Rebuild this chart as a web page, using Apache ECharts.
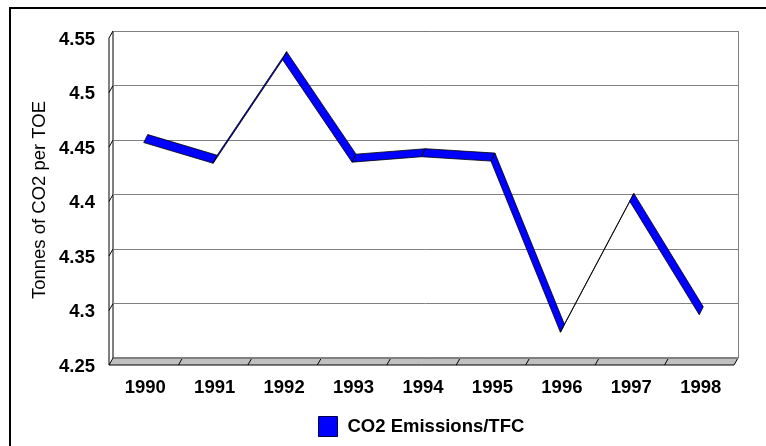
<!DOCTYPE html>
<html>
<head>
<meta charset="utf-8">
<script src="https://cdn.jsdelivr.net/npm/echarts@6/dist/echarts.min.js"></script>
<style>
  html, body { margin: 0; padding: 0; background: #fff; }
  #main { width: 766px; height: 446px; }
</style>
</head>
<body>
<div id="main"></div>
<script>
// CO2 emissions per unit of TFC, 1990-1998
var years = ['1990', '1991', '1992', '1993', '1994', '1995', '1996', '1997', '1998'];
var co2PerToe = [4.455, 4.436, 4.531, 4.437, 4.442, 4.438, 4.281, 4.401, 4.297];
var yTicks = [4.25, 4.3, 4.35, 4.4, 4.45, 4.5, 4.55];
var seriesName = 'CO2 Emissions/TFC';
var axisTitle = 'Tonnes of CO2 per TOE';

// back wall of the fake 3d plot
var gridL = 113, gridT = 31, gridW = 625, gridH = 327;
var depth = [-4, 7];        // back wall -> front plane
var ribbonDepth = [-4, 8];  // thickness of the line ribbon
var font = 'Liberation Sans, Arial, sans-serif';

var chartDom = document.getElementById('main');
var myChart = echarts.init(chartDom, null, { renderer: 'canvas' });

// one ribbon piece per pair of neighbouring years
var segments = [];
for (var i = 0; i < years.length - 1; i++) {
    segments.push([i, co2PerToe[i], co2PerToe[i + 1]]);
}

function renderRibbon(params, api) {
    var p = api.coord([api.value(0), api.value(1)]);
    var q = api.coord([api.value(0) + 1, api.value(2)]);
    var pts = [
        p, q,
        [q[0] + ribbonDepth[0], q[1] + ribbonDepth[1]],
        [p[0] + ribbonDepth[0], p[1] + ribbonDepth[1]]
    ];
    return {
        type: 'polygon',
        shape: { points: pts },
        style: { fill: '#0000ff', stroke: '#000', lineWidth: 0.8, lineJoin: 'miter' }
    };
}

// floor, left wall and border pieces
var gridB = gridT + gridH;
var gridR = gridL + gridW;
var band = gridW / years.length;
var decor = [];
decor.push({
    type: 'rect', shape: { x: 10, y: 8, width: 900, height: 600 },
    style: { fill: null, stroke: '#000', lineWidth: 2 }, silent: true
});
decor.push({
    type: 'polygon',
    shape: { points: [[gridL, gridB], [gridR, gridB], [gridR + depth[0], gridB + depth[1]], [gridL + depth[0], gridB + depth[1]]] },
    style: { fill: '#c0c0c0', stroke: '#000', lineWidth: 1 }, silent: true
});
for (var k = 1; k < years.length; k++) {
    var bx = gridL + k * band;
    decor.push({
        type: 'line', shape: { x1: bx, y1: gridB, x2: bx + depth[0], y2: gridB + depth[1] },
        style: { stroke: '#000', lineWidth: 1 }, silent: true
    });
}
decor.push({
    type: 'polyline',
    shape: { points: [[gridL, gridB], [gridL, gridT], [gridL + depth[0], gridT + depth[1]], [gridL + depth[0], gridB + depth[1]]] },
    style: { fill: null, stroke: '#000', lineWidth: 1 }, silent: true
});
decor.push({
    type: 'line', shape: { x1: gridL, y1: gridT + 0.5, x2: gridR, y2: gridT + 0.5 },
    style: { stroke: '#000', lineWidth: 1 }, silent: true
});
decor.push({
    type: 'line', shape: { x1: gridR + 0.5, y1: gridT, x2: gridR + 0.5, y2: gridB },
    style: { stroke: '#808080', lineWidth: 1 }, silent: true
});
for (var t = 1; t < yTicks.length - 1; t++) {
    var ty = gridB - (yTicks[t] - yTicks[0]) / (yTicks[yTicks.length - 1] - yTicks[0]) * gridH;
    decor.push({
        type: 'line', shape: { x1: gridL, y1: ty, x2: gridL + depth[0], y2: ty + depth[1] },
        style: { stroke: '#000', lineWidth: 1 }, silent: true
    });
}
// axis title, rotated
decor.push({
    type: 'text', x: 40, y: 200, rotation: Math.PI / 2, silent: true,
    style: {
        text: axisTitle, fontFamily: font, fontSize: 18.5, fill: '#000',
        align: 'center', verticalAlign: 'middle'
    }
});

var option = {
    backgroundColor: '#fff',
    animation: false,
    textStyle: { fontFamily: font },
    grid: { left: gridL, top: gridT, width: gridW, height: gridH },
    legend: {
        left: 318,
        top: 416,
        padding: 0,
        itemWidth: 19,
        itemHeight: 20,
        itemGap: 10,
        data: [{ name: seriesName, icon: 'rect' }],
        itemStyle: { borderColor: '#000040', borderWidth: 1 },
        textStyle: { fontFamily: font, fontSize: 18.5, fontWeight: 'bold', color: '#000', padding: [0, 0, 0, 5] }
    },
    xAxis: {
        type: 'category',
        data: years,
        boundaryGap: true,
        axisLine: { show: false },
        axisTick: { show: false },
        axisLabel: {
            margin: 20,
            padding: [0, 5, 0, 0],
            fontFamily: font, fontSize: 18.5, fontWeight: 'bold', color: '#000'
        }
    },
    yAxis: {
        type: 'value',
        min: yTicks[0],
        max: yTicks[yTicks.length - 1],
        interval: 0.05,
        axisLine: { show: false },
        axisTick: { show: false },
        splitLine: { lineStyle: { color: '#808080', width: 1 } },
        axisLabel: {
            margin: 18,
            verticalAlign: 'top',
            lineHeight: 17,
            fontFamily: font, fontSize: 18.5, fontWeight: 'bold', color: '#000',
            formatter: function (v) { return String(+v.toFixed(2)); }
        }
    },
    graphic: decor,
    series: [
        {
            name: seriesName,
            type: 'custom',
            renderItem: renderRibbon,
            itemStyle: { color: '#0000ff' },
            encode: { x: 0, y: [1, 2] },
            data: segments,
            z: 5
        }
    ]
};
myChart.setOption(option);
</script>
</body>
</html>
